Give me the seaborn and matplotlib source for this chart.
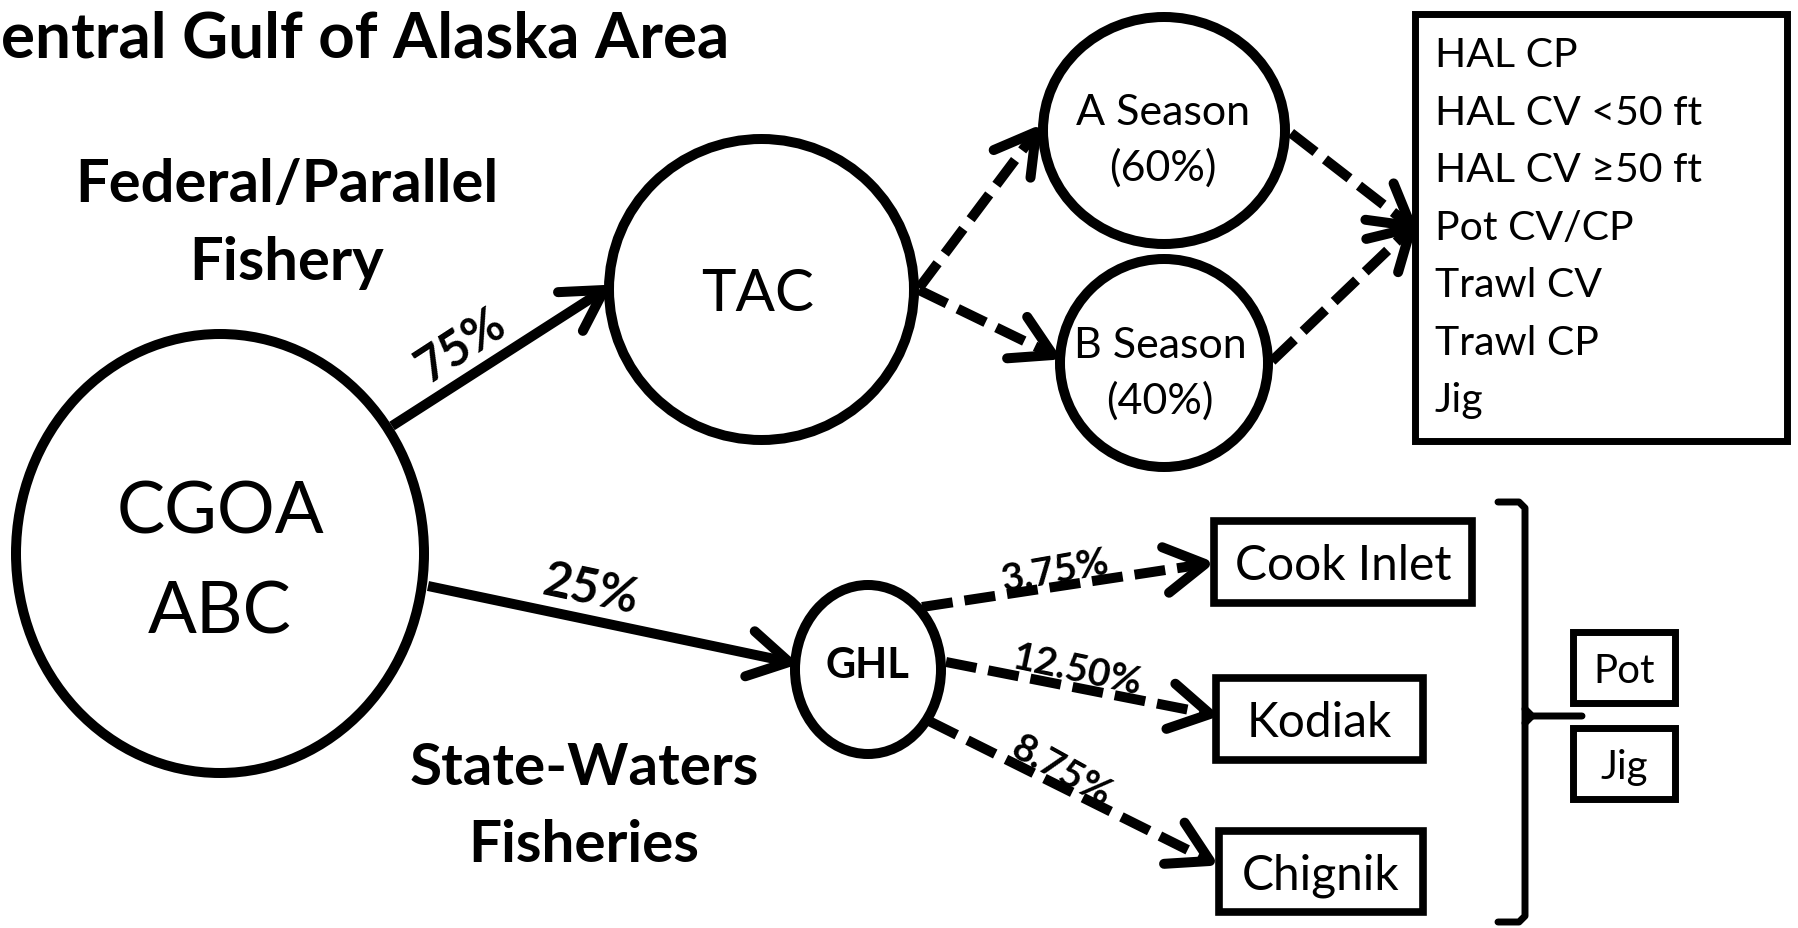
import numpy as np
import pandas as pd
import matplotlib
matplotlib.use("Agg")
import matplotlib.pyplot as plt
from matplotlib.patches import Ellipse, Rectangle
import seaborn as sns

# --- chart content ---
# the leading "C" of "Central" is cropped away in the source figure
title = "entral Gulf of Alaska Area"
abc_label = ["CGOA", "ABC"]
federal_label = ["Federal/Parallel", "Fishery"]
state_label = ["State-Waters", "Fisheries"]
federal_share = 75
state_share = 25
season_names = ["A Season", "B Season"]
season_shares = [60, 40]
ghl_areas = ["Cook Inlet", "Kodiak", "Chignik"]
ghl_shares = [3.75, 12.50, 8.75]
federal_sectors = ["HAL CP", "HAL CV <50 ft", "HAL CV \u226550 ft", "Pot CV/CP",
                   "Trawl CV", "Trawl CP", "Jig"]
state_gears = ["Pot", "Jig"]

# --- layout (pixel space of the 1799x929 canvas, y down) ---
W, H = 1799, 929
LW = 7.2  # about 10 px strokes

sns.set_theme(style="white")
plt.rcParams["font.family"] = ["Lato", "DejaVu Sans"]

fig = plt.figure(figsize=(W / 100, H / 100), dpi=100)
ax = fig.add_axes([0, 0, 1, 1])


def label(x, y, s, size, bold=False, ha="center", va="baseline", rot=0):
    ax.text(x, y, s, fontsize=size, fontweight="bold" if bold else "normal",
            ha=ha, va=va, rotation=rot, rotation_mode="anchor", color="black")


# circles: centre x, centre y, width, height
nodes = {
    "abc": (220, 554.5, 408, 439),
    "tac": (761.5, 290.5, 305, 301),
    "a": (1164, 131.5, 242, 227),
    "b": (1164, 364, 208, 208),
    "ghl": (868, 670.5, 146, 169),
}
for cx, cy, w, h in nodes.values():
    ax.add_patch(Ellipse((cx, cy), w, h, fill=False, ec="black", lw=LW))

# arrows: start, tip, line kind
edges = [
    ((392, 427), (604, 291), "solid"),
    ((428, 587), (789, 663), "solid"),
    ((919, 289), (1036, 133), "dashed"),
    ((919, 291), (1053, 356), "dashed"),
    ((1291, 134), (1411, 227), "dashed"),
    ((1272, 362), (1411, 229), "dashed"),
    ((922, 608), (1205, 565), "dashed"),
    ((946, 663), (1210, 715), "dashed"),
    ((929, 722), (1210, 862), "dashed"),
]
rows = []
for i, (p0, p1, kind) in enumerate(edges):
    rows.append(dict(edge=i, x=p0[0], y=p0[1], kind=kind))
    rows.append(dict(edge=i, x=p1[0], y=p1[1], kind=kind))
edge_df = pd.DataFrame(rows)
sns.lineplot(data=edge_df, x="x", y="y", units="edge", style="kind", estimator=None,
             sort=False, dashes={"solid": "", "dashed": (3.1, 1.2)}, color="black",
             lw=LW, legend=False, ax=ax, dash_capstyle="butt", solid_capstyle="butt")


def arrow_head(p0, p1, length=46, spread=30):
    ang = np.arctan2(p0[1] - p1[1], p0[0] - p1[0])
    xs, ys = [], []
    for s in (np.radians(spread), None, -np.radians(spread)):
        if s is None:
            xs.append(p1[0]); ys.append(p1[1])
        else:
            xs.append(p1[0] + length * np.cos(ang + s))
            ys.append(p1[1] + length * np.sin(ang + s))
    ax.plot(xs, ys, color="black", lw=LW, solid_capstyle="round", solid_joinstyle="round")


for p0, p1, _ in edges:
    arrow_head(p0, p1)

# titles and node labels
label(1, 57, title, 45.8, bold=True, ha="left")
for y, s in zip([202, 280], federal_label):
    label(287, y, s, 43, bold=True)
for y, s in zip([785, 862], state_label):
    label(584, y, s, 42, bold=True)
for y, s in zip([533, 634], abc_label):
    label(220, y, s, 52)
label(758, 311, "TAC", 42)
for (x, y0), name, share in zip([(1163, 125), (1160, 358)], season_names, season_shares):
    label(x, y0, name, 31)
    label(x, y0 + 56, f"({share}%)", 31)
label(867.5, 678, "GHL", 30, bold=True)

# percentage labels on the arrows
label(461, 346, f"{federal_share}%", 35, bold=True, va="center", rot=33)
label(590, 590, f"{state_share}%", 35, bold=True, va="center", rot=-12)
for (x, y, r), v in zip([(1055, 571, 10), (1077, 670, -12), (1062, 771, -29)], ghl_shares):
    label(x, y, f"{v:.2f}%", 28, bold=True, va="center", rot=r)

# federal sector box
ax.add_patch(Rectangle((1415.5, 14.5), 372, 427, fill=False, ec="black", lw=5))
for i, s in enumerate(federal_sectors):
    label(1435, 67 + 57.5 * i, s, 29.5, ha="left")

# state area boxes
area_boxes = [(1214, 522, 258, 82), (1216, 679, 207, 82), (1219, 832, 204, 81)]
for (x, y, w, h), s in zip(area_boxes, ghl_areas):
    ax.add_patch(Rectangle((x, y), w, h, fill=False, ec="black", lw=5.5))
    label(x + w / 2, y + h / 2 + 17, s, 34.5)

# bracket and gear boxes
ax.plot([1498, 1519, 1525, 1525, 1519, 1498], [503, 503, 509, 917, 923, 923],
        color="black", lw=5, solid_joinstyle="round")
ax.plot([1525, 1532, 1582], [710, 717, 717], color="black", lw=5)
ax.plot([1525, 1532], [724, 717], color="black", lw=5)
gear_boxes = [(1573, 633, 102, 71), (1573, 729, 102, 71)]
for (x, y, w, h), s in zip(gear_boxes, state_gears):
    ax.add_patch(Rectangle((x, y), w, h, fill=False, ec="black", lw=5))
    label(x + w / 2, y + 50, s, 29)

ax.set_xlim(0, W)
ax.set_ylim(H, 0)
ax.axis("off")

fig.savefig("out.png", dpi=100)
